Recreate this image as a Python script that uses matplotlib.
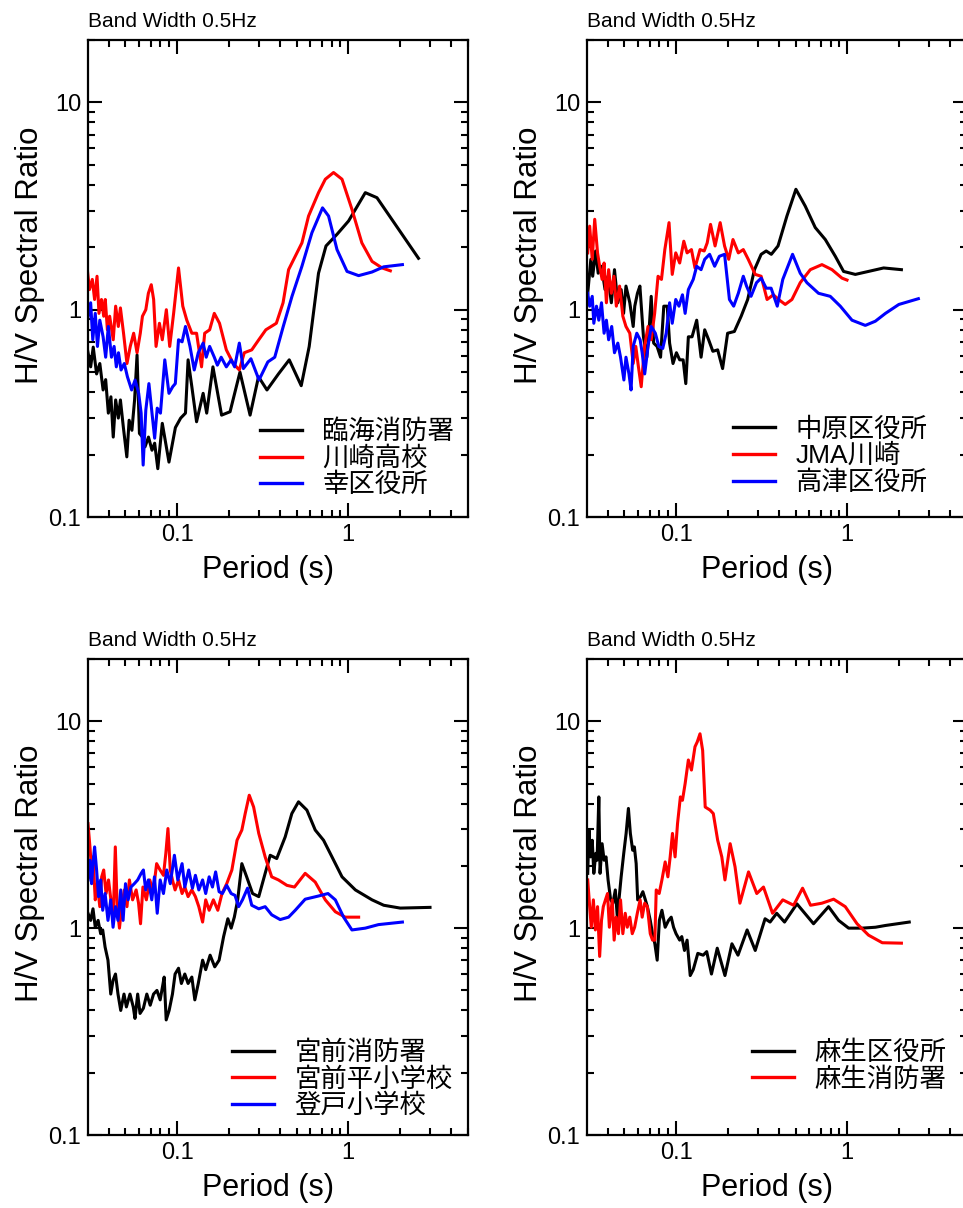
import matplotlib
matplotlib.use("Agg")
import matplotlib.pyplot as plt
from matplotlib.ticker import LogLocator, FuncFormatter, NullFormatter

plt.rcParams['font.family'] = ['Liberation Sans', 'Noto Sans CJK JP']

# ---- panel 1 ----
rinkai_T = [0.030, 0.0313, 0.0324, 0.0339, 0.0354, 0.0370, 0.0383, 0.0397, 0.0411, 0.0424,
            0.0438, 0.0454, 0.0467, 0.0486, 0.0509, 0.0525, 0.0545, 0.0565, 0.0584, 0.0603,
            0.0628, 0.0650, 0.0681, 0.0714, 0.0740, 0.0772, 0.0820, 0.0897, 0.0978, 0.105,
            0.112, 0.116, 0.122, 0.130, 0.142, 0.149, 0.162, 0.182, 0.204, 0.233,
            0.267, 0.299, 0.335, 0.391, 0.452, 0.531, 0.591, 0.67, 0.741, 0.859,
            1.004, 1.257, 1.47, 1.88, 2.57]
rinkai_hv = [0.64, 0.53, 0.66, 0.49, 0.55, 0.41, 0.46, 0.317, 0.38, 0.243,
             0.367, 0.30, 0.367, 0.27, 0.195, 0.293, 0.262, 0.367, 0.605, 0.253,
             0.243, 0.218, 0.243, 0.21, 0.227, 0.171, 0.283, 0.184, 0.27, 0.30,
             0.317, 0.573, 0.425, 0.288, 0.395, 0.317, 0.53, 0.31, 0.322, 0.50,
             0.31, 0.475, 0.41, 0.49, 0.573, 0.43, 0.664, 1.50, 2.03, 2.31,
             2.68, 3.67, 3.47, 2.58, 1.77]

kawasaki_T = [0.030, 0.0308, 0.0320, 0.0330, 0.0341, 0.0350, 0.0362, 0.0373, 0.0381, 0.0392,
              0.0404, 0.0424, 0.0438, 0.0454, 0.0467, 0.0487, 0.051, 0.0533, 0.0558, 0.0584,
              0.061, 0.0628, 0.0657, 0.068, 0.0707, 0.0730, 0.0754, 0.0789, 0.082, 0.0866,
              0.0906, 0.0955, 0.102, 0.108, 0.114, 0.122, 0.130, 0.139, 0.145, 0.155,
              0.165, 0.177, 0.194, 0.213, 0.231, 0.247, 0.273, 0.30, 0.33, 0.38,
              0.416, 0.448, 0.49, 0.536, 0.586, 0.67, 0.734, 0.82, 0.919, 1.05,
              1.20, 1.376, 1.575, 1.76]
kawasaki_hv = [1.53, 1.25, 1.40, 1.12, 1.45, 0.96, 1.12, 0.93, 1.12, 0.80,
               0.93, 0.716, 1.04, 0.83, 1.02, 0.77, 0.55, 0.665, 0.77, 0.62,
               0.77, 0.93, 1.0, 1.20, 1.32, 1.12, 0.665, 0.86, 0.716, 1.0,
               0.665, 0.96, 1.59, 1.04, 0.89, 0.77, 0.77, 0.53, 0.77, 0.80,
               0.96, 0.86, 0.64, 0.55, 0.512, 0.62, 0.64, 0.716, 0.80, 0.86,
               1.08, 1.56, 1.81, 2.10, 2.83, 3.67, 4.26, 4.59, 4.26, 3.05,
               2.10, 1.71, 1.59, 1.54]

saiwai_T = [0.030, 0.0313, 0.0322, 0.0333, 0.0343, 0.0354, 0.0370, 0.0383, 0.0397, 0.0414,
            0.0429, 0.0442, 0.0455, 0.0471, 0.0492, 0.0513, 0.0543, 0.0569, 0.0597, 0.0617,
            0.0634, 0.0657, 0.0685, 0.0714, 0.074, 0.0766, 0.080, 0.0848, 0.0897, 0.0943,
            0.0977, 0.102, 0.107, 0.112, 0.119, 0.126, 0.133, 0.142, 0.148, 0.155,
            0.165, 0.172, 0.181, 0.194, 0.207, 0.217, 0.231, 0.244, 0.270, 0.301,
            0.339, 0.372, 0.417, 0.469, 0.536, 0.613, 0.707, 0.767, 0.859, 0.983,
            1.149, 1.376, 1.61, 2.07]
saiwai_hv = [0.89, 1.08, 0.716, 0.96, 0.665, 0.89, 0.74, 0.59, 0.83, 0.59,
             0.665, 0.53, 0.62, 0.512, 0.55, 0.475, 0.41, 0.458, 0.395, 0.317,
             0.178, 0.328, 0.44, 0.317, 0.24, 0.335, 0.317, 0.573, 0.395, 0.425,
             0.44, 0.716, 0.70, 0.83, 0.665, 0.512, 0.62, 0.69, 0.59, 0.665,
             0.59, 0.54, 0.59, 0.53, 0.573, 0.53, 0.69, 0.52, 0.58, 0.458,
             0.56, 0.59, 0.83, 1.16, 1.62, 2.35, 3.10, 2.83, 1.95, 1.53,
             1.46, 1.52, 1.61, 1.65]

# ---- panel 2 ----
nakahara_T = [0.0305, 0.0318, 0.0326, 0.0339, 0.0351, 0.0367, 0.0385, 0.0400, 0.0419, 0.0437,
              0.0457, 0.0478, 0.0494, 0.051, 0.0537, 0.0562, 0.0574, 0.0595, 0.0615, 0.0645,
              0.0675, 0.0696, 0.0716, 0.074, 0.0775, 0.0812, 0.0848, 0.0888, 0.0917, 0.0960,
              0.1005, 0.105, 0.110, 0.114, 0.118, 0.124, 0.132, 0.140, 0.147, 0.155,
              0.164, 0.175, 0.187, 0.200, 0.219, 0.240, 0.262, 0.287, 0.314, 0.336,
              0.360, 0.394, 0.444, 0.501, 0.568, 0.65, 0.744, 0.851, 0.951, 1.114,
              1.33, 1.63, 2.07]
nakahara_hv = [1.20, 1.75, 1.45, 1.92, 1.50, 1.62, 1.25, 1.45, 1.08, 1.56,
               1.08, 1.25, 0.96, 1.30, 1.08, 0.83, 1.04, 1.20, 1.30, 0.74,
               0.59, 0.80, 1.16, 0.69, 0.665, 0.59, 1.04, 1.04, 0.69, 0.55,
               0.62, 0.573, 0.573, 0.44, 0.74, 0.74, 0.89, 0.59, 0.80, 0.716,
               0.63, 0.64, 0.52, 0.77, 0.785, 0.93, 1.12, 1.56, 1.85, 1.92,
               1.85, 2.03, 2.83, 3.81, 3.16, 2.49, 2.18, 1.81, 1.53, 1.48,
               1.53, 1.59, 1.56]

jma_T = [0.0305, 0.0313, 0.0324, 0.0335, 0.0348, 0.0358, 0.0370, 0.0380, 0.0392, 0.0404,
         0.0419, 0.0434, 0.0448, 0.0468, 0.0489, 0.051, 0.0537, 0.0562, 0.0582, 0.0603,
         0.0626, 0.0655, 0.0686, 0.0716, 0.0750, 0.0785, 0.0822, 0.086, 0.091, 0.095,
         0.0996, 0.105, 0.111, 0.116, 0.123, 0.129, 0.138, 0.146, 0.152, 0.159,
         0.169, 0.181, 0.192, 0.203, 0.215, 0.231, 0.247, 0.264, 0.29, 0.314,
         0.34, 0.37, 0.397, 0.434, 0.475, 0.531, 0.608, 0.711, 0.814, 0.931,
         0.996]
jma_hv = [1.88, 2.53, 1.75, 2.73, 1.88, 1.62, 1.40, 1.68, 1.08, 1.56,
          1.20, 1.45, 1.04, 1.30, 0.93, 0.83, 0.77, 0.55, 0.665, 0.53,
          0.425, 0.665, 0.83, 0.716, 0.96, 1.45, 1.40, 1.95, 2.63, 1.48,
          1.88, 1.68, 2.14, 1.88, 1.95, 1.59, 1.95, 1.92, 2.10, 2.58,
          2.03, 2.63, 2.03, 1.75, 2.18, 1.88, 1.95, 1.75, 1.48, 1.45,
          1.12, 1.18, 1.12, 1.06, 1.12, 1.35, 1.56, 1.65, 1.56, 1.42,
          1.39]

takatsu_T = [0.0305, 0.0313, 0.0324, 0.0331, 0.0343, 0.0354, 0.0367, 0.0380, 0.0392, 0.0404,
             0.0421, 0.0437, 0.0457, 0.0474, 0.0496, 0.051, 0.0531, 0.0546, 0.0562, 0.0590,
             0.0617, 0.0634, 0.0656, 0.0686, 0.0716, 0.0757, 0.0793, 0.0836, 0.0876, 0.0917,
             0.095, 0.0996, 0.104, 0.109, 0.113, 0.118, 0.126, 0.132, 0.140, 0.147,
             0.157, 0.168, 0.179, 0.192, 0.205, 0.217, 0.231, 0.247, 0.258, 0.274,
             0.295, 0.314, 0.336, 0.359, 0.39, 0.42, 0.479, 0.531, 0.581, 0.679,
             0.795, 0.91, 1.065, 1.274, 1.458, 1.67, 2.0, 2.6]
takatsu_hv = [1.20, 1.04, 1.16, 0.86, 1.04, 0.89, 1.08, 0.77, 0.89, 0.716,
              0.83, 0.62, 0.69, 0.59, 0.458, 0.59, 0.49, 0.41, 0.665, 0.77,
              0.716, 0.62, 0.49, 0.665, 0.83, 0.77, 0.665, 0.65, 0.77, 1.08,
              0.86, 1.12, 1.04, 1.18, 0.96, 1.25, 1.40, 1.62, 1.56, 1.75,
              1.85, 1.62, 1.81, 1.85, 1.12, 1.04, 1.20, 1.45, 1.30, 1.16,
              1.35, 1.42, 1.27, 1.27, 1.04, 1.40, 1.85, 1.50, 1.35, 1.20,
              1.16, 1.04, 0.89, 0.84, 0.88, 0.96, 1.06, 1.13]

# ---- panel 3 ----
miyamae_T = [0.0302, 0.0313, 0.0323, 0.0333, 0.0346, 0.0358, 0.0368, 0.0380, 0.0395, 0.0410,
             0.0423, 0.0437, 0.0452, 0.0469, 0.0490, 0.0506, 0.0531, 0.0555, 0.0568, 0.0589,
             0.0608, 0.0636, 0.0666, 0.0697, 0.0729, 0.0763, 0.0797, 0.0822, 0.0841, 0.0864,
             0.0899, 0.094, 0.0974, 0.102, 0.106, 0.111, 0.116, 0.122, 0.127, 0.133,
             0.141, 0.147, 0.156, 0.166, 0.176, 0.187, 0.198, 0.207, 0.216, 0.226,
             0.239, 0.255, 0.276, 0.30, 0.327, 0.35, 0.382, 0.428, 0.468, 0.512,
             0.573, 0.641, 0.717, 0.803, 0.919, 1.10, 1.376, 1.61, 2.01, 3.0]
miyamae_hv = [1.18, 1.09, 1.24, 1.01, 1.09, 0.94, 0.98, 0.81, 0.70, 0.48,
              0.56, 0.60, 0.48, 0.40, 0.48, 0.416, 0.48, 0.416, 0.366, 0.48,
              0.387, 0.41, 0.48, 0.424, 0.48, 0.50, 0.45, 0.52, 0.58, 0.36,
              0.40, 0.48, 0.60, 0.64, 0.54, 0.60, 0.54, 0.58, 0.45, 0.54,
              0.70, 0.63, 0.74, 0.65, 0.70, 0.91, 1.11, 1.0, 1.13, 1.37,
              2.05, 1.77, 1.47, 1.42, 1.84, 2.25, 2.17, 2.76, 3.58, 4.08,
              3.72, 2.98, 2.66, 2.21, 1.77, 1.53, 1.37, 1.29, 1.25, 1.26]

miyamaedaira_T = [0.0302, 0.0310, 0.0317, 0.0323, 0.0333, 0.0342, 0.0354, 0.0363, 0.0373, 0.0385,
                  0.0398, 0.0413, 0.0424, 0.0436, 0.0447, 0.0461, 0.0475, 0.0492, 0.0510, 0.0527,
                  0.0550, 0.0577, 0.0596, 0.0612, 0.0632, 0.0662, 0.0693, 0.0726, 0.0760, 0.0796,
                  0.0833, 0.0860, 0.0885, 0.0913, 0.094, 0.0974, 0.102, 0.107, 0.111, 0.116,
                  0.122, 0.128, 0.134, 0.141, 0.147, 0.154, 0.163, 0.173, 0.183, 0.195,
                  0.209, 0.224, 0.239, 0.250, 0.264, 0.280, 0.30, 0.327, 0.357, 0.391,
                  0.438, 0.485, 0.56, 0.641, 0.734, 0.84, 0.96, 1.149]
miyamaedaira_hv = [3.2, 2.47, 1.91, 2.21, 1.37, 1.64, 1.27, 1.77, 1.91, 1.47,
                   1.71, 1.32, 1.13, 2.47, 1.27, 1.0, 1.27, 1.53, 1.27, 1.71,
                   1.37, 1.53, 1.32, 1.05, 1.58, 1.37, 1.71, 1.50, 2.05, 1.91,
                   1.80, 2.30, 3.03, 1.91, 1.71, 1.53, 1.71, 1.47, 1.58, 1.42,
                   1.53, 1.42, 1.27, 1.07, 1.37, 1.22, 1.37, 1.22, 1.47, 1.64,
                   1.91, 2.66, 2.98, 3.58, 4.39, 3.85, 2.87, 2.21, 1.77, 1.71,
                   1.61, 1.58, 1.84, 1.67, 1.37, 1.20, 1.13, 1.13]

noborito_T = [0.0302, 0.0310, 0.0317, 0.0323, 0.0330, 0.0339, 0.0348, 0.0358, 0.0368, 0.0380,
              0.0395, 0.0410, 0.0423, 0.0437, 0.0452, 0.0469, 0.0484, 0.0500, 0.0518, 0.0538,
              0.0563, 0.0589, 0.0617, 0.0636, 0.0656, 0.068, 0.0712, 0.0738, 0.0766, 0.0797,
              0.0833, 0.0871, 0.0913, 0.0965, 0.101, 0.107, 0.111, 0.117, 0.123, 0.128,
              0.134, 0.141, 0.147, 0.154, 0.161, 0.168, 0.176, 0.184, 0.195, 0.207,
              0.218, 0.229, 0.241, 0.258, 0.273, 0.30, 0.327, 0.357, 0.40, 0.448,
              0.49, 0.56, 0.67, 0.761, 0.84, 0.939, 1.05, 1.257, 1.50, 2.07]
noborito_hv = [1.71, 2.13, 1.64, 2.05, 2.47, 1.91, 1.42, 1.71, 1.22, 1.47,
               1.09, 1.37, 1.01, 1.27, 1.09, 1.53, 1.09, 1.64, 1.37, 1.58,
               1.64, 1.71, 1.84, 1.91, 1.53, 1.71, 1.37, 1.77, 1.18, 1.71,
               1.47, 1.91, 1.64, 2.25, 1.71, 2.05, 1.58, 1.91, 1.56, 1.80,
               1.53, 1.71, 1.47, 1.77, 1.58, 1.87, 1.50, 1.47, 1.61, 1.47,
               1.44, 1.27, 1.37, 1.56, 1.29, 1.24, 1.27, 1.16, 1.10, 1.13,
               1.22, 1.38, 1.43, 1.47, 1.37, 1.13, 0.98, 1.0, 1.04, 1.07]

# ---- panel 4 ----
asaoku_T = [0.0305, 0.031, 0.0317, 0.0324, 0.0331, 0.0340, 0.0346, 0.0354, 0.036, 0.0370,
            0.0380, 0.039, 0.0401, 0.0415, 0.0428, 0.0442, 0.0454, 0.0466, 0.0478, 0.0495,
            0.0511, 0.0527, 0.0541, 0.0558, 0.0571, 0.0585, 0.0597, 0.0620, 0.064, 0.0662,
            0.068, 0.0707, 0.0729, 0.0752, 0.0776, 0.0799, 0.0827, 0.0864, 0.0904, 0.0937,
            0.0967, 0.100, 0.105, 0.108, 0.112, 0.116, 0.121, 0.126, 0.134, 0.144,
            0.151, 0.161, 0.174, 0.193, 0.212, 0.23, 0.26, 0.29, 0.331, 0.354,
            0.387, 0.43, 0.508, 0.635, 0.777, 0.89, 1.018, 1.22, 1.46, 1.67, 2.3]
asaoku_hv = [1.84, 2.98, 2.21, 2.66, 1.84, 2.30, 2.13, 4.31, 1.84, 2.56,
             2.13, 2.21, 1.71, 1.37, 1.32, 1.53, 1.13, 1.42, 1.77, 2.30,
             2.87, 3.79, 2.87, 2.38, 2.47, 2.05, 1.37, 1.42, 1.50, 1.37,
             1.27, 1.09, 0.94, 0.84, 0.70, 1.09, 1.22, 1.01, 1.09, 1.13,
             1.01, 0.94, 0.875, 0.91, 0.78, 0.875, 0.59, 0.63, 0.755, 0.74,
             0.77, 0.60, 0.80, 0.59, 0.84, 0.74, 0.98, 0.78, 1.11, 1.07,
             1.18, 1.07, 1.31, 1.05, 1.27, 1.09, 1.0, 1.0, 1.01, 1.03, 1.07]

asaofd_T = [0.0305, 0.0313, 0.0320, 0.0329, 0.0338, 0.0348, 0.0358, 0.0367, 0.0376, 0.0387,
            0.0398, 0.0408, 0.0424, 0.0435, 0.0447, 0.0461, 0.0474, 0.0489, 0.0505, 0.0519,
            0.0537, 0.0555, 0.0573, 0.0594, 0.0617, 0.0634, 0.0656, 0.068, 0.0707, 0.0729,
            0.0752, 0.0766, 0.0797, 0.0827, 0.0864, 0.0896, 0.0924, 0.0953, 0.0987, 0.102,
            0.106, 0.109, 0.113, 0.118, 0.123, 0.129, 0.133, 0.138, 0.143, 0.148,
            0.158, 0.165, 0.175, 0.185, 0.193, 0.207, 0.221, 0.236, 0.265, 0.296,
            0.324, 0.366, 0.42, 0.486, 0.548, 0.61, 0.711, 0.832, 0.973, 1.14,
            1.33, 1.6, 2.07]
asaofd_hv = [1.71, 1.27, 1.01, 1.37, 0.98, 1.27, 0.73, 1.09, 1.27, 1.37,
             1.47, 1.01, 1.37, 0.875, 1.13, 0.94, 1.37, 0.94, 1.18, 1.01,
             1.13, 0.94, 1.01, 1.18, 1.37, 1.13, 1.32, 1.27, 0.94, 0.875,
             0.875, 1.53, 1.47, 1.71, 2.09, 1.77, 2.21, 2.87, 2.21, 3.2,
             4.31, 4.15, 5.0, 6.5, 5.81, 7.53, 7.95, 8.7, 7.23, 3.85,
             3.72, 3.58, 2.66, 2.21, 1.71, 2.56, 1.98, 1.32, 1.87, 1.47,
             1.58, 1.18, 1.37, 1.29, 1.56, 1.29, 1.32, 1.38, 1.27, 1.05,
             0.925, 0.85, 0.846]

panels = [
    ([(rinkai_T, rinkai_hv, 'black', '臨海消防署'),
      (kawasaki_T, kawasaki_hv, 'red', '川崎高校'),
      (saiwai_T, saiwai_hv, 'blue', '幸区役所')], (0.4526, 0.2046)),
    ([(nakahara_T, nakahara_hv, 'black', '中原区役所'),
      (jma_T, jma_hv, 'red', 'JMA川崎'),
      (takatsu_T, takatsu_hv, 'blue', '高津区役所')], (0.384, 0.2088)),
    ([(miyamae_T, miyamae_hv, 'black', '宮前消防署'),
      (miyamaedaira_T, miyamaedaira_hv, 'red', '宮前平小学校'),
      (noborito_T, noborito_hv, 'blue', '登戸小学校')], (0.379, 0.1987)),
    ([(asaoku_T, asaoku_hv, 'black', '麻生区役所'),
      (asaofd_T, asaofd_hv, 'red', '麻生消防署')], (0.434, 0.1987)),
]

W, H = 963, 1208
fig = plt.figure(figsize=(W / 100, H / 100), dpi=100)

# axes boxes in pixels: left, top, right, bottom
boxes = [(88, 40, 468, 517), (587, 40, 967, 517),
         (88, 659, 468, 1135), (587, 659, 967, 1135)]

for (series, leg_pos), (l, t, r, b) in zip(panels, boxes):
    ax = fig.add_axes([l / W, 1 - b / H, (r - l) / W, (b - t) / H])
    for T, hv, c, name in series:
        ax.plot(T, hv, color=c, lw=2.2, label=name)
    ax.set_xscale('log')
    ax.set_yscale('log')
    ax.set_xlim(0.0302, 5.0)
    ax.set_ylim(0.1, 20)
    for axis in (ax.xaxis, ax.yaxis):
        axis.set_major_locator(LogLocator(base=10))
        axis.set_minor_locator(LogLocator(base=10, subs=range(2, 10)))
        axis.set_major_formatter(FuncFormatter(lambda v, _: f'{v:g}'))
        axis.set_minor_formatter(NullFormatter())
    ax.tick_params(which='both', direction='in', top=True, right=True, width=1.5)
    ax.tick_params(which='major', length=10, labelsize=17, pad=5)
    ax.tick_params(which='minor', length=5)
    for s in ax.spines.values():
        s.set_linewidth(1.6)
    ax.set_xlabel('Period (s)', fontsize=22)
    ax.set_ylabel('H/V Spectral Ratio', fontsize=22.5)
    ax.xaxis.set_label_coords(0.474, -0.080)
    ax.yaxis.set_label_coords(-0.112, 0.549)
    ax.text(0.0, 1.027, 'Band Width 0.5Hz', transform=ax.transAxes,
            fontsize=15, ha='left', va='baseline')
    leg = ax.legend(loc='upper left', bbox_to_anchor=leg_pos, frameon=False,
                    fontsize=19, borderpad=0, borderaxespad=0, handlelength=1.6,
                    handletextpad=0.76, labelspacing=0.08)
    for ln in leg.get_lines():
        ln.set_linewidth(2.4)

fig.savefig('out.png', dpi=100)
